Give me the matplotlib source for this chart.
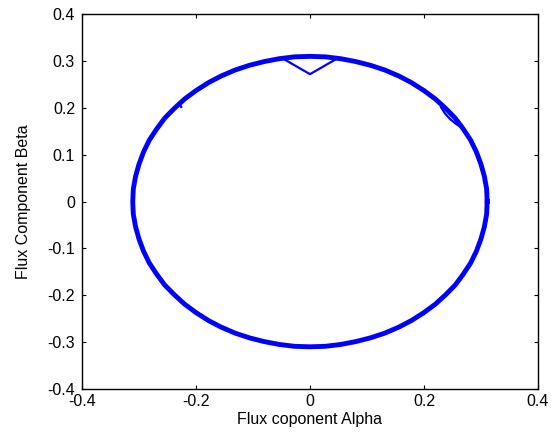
import matplotlib
matplotlib.use("Agg")
import matplotlib.pyplot as plt

# flux trajectory in the alpha-beta plane (one lap, ~5 degree steps)
alpha = [0.311, 0.310, 0.306, 0.300, 0.292, 0.282, 0.269, 0.255, 0.238, 0.220,
         0.200, 0.178, 0.156, 0.131, 0.106, 0.080, 0.054, 0.027, 0.000,
         -0.027, -0.054, -0.080, -0.106, -0.131, -0.156, -0.178, -0.200, -0.220,
         -0.238, -0.255, -0.269, -0.282, -0.292, -0.300, -0.306, -0.310, -0.311,
         -0.310, -0.306, -0.300, -0.292, -0.282, -0.269, -0.255, -0.238, -0.220,
         -0.200, -0.178, -0.156, -0.131, -0.106, -0.080, -0.054, -0.027, 0.000,
         0.027, 0.054, 0.080, 0.106, 0.131, 0.156, 0.178, 0.200, 0.220,
         0.238, 0.255, 0.269, 0.282, 0.292, 0.300, 0.306, 0.310, 0.311]
beta = [0.000, 0.027, 0.054, 0.080, 0.106, 0.131, 0.155, 0.178, 0.199, 0.219,
        0.237, 0.254, 0.268, 0.281, 0.291, 0.299, 0.305, 0.309, 0.310,
        0.309, 0.305, 0.299, 0.291, 0.281, 0.268, 0.254, 0.237, 0.219,
        0.199, 0.178, 0.155, 0.131, 0.106, 0.080, 0.054, 0.027, 0.000,
        -0.027, -0.054, -0.080, -0.106, -0.131, -0.155, -0.178, -0.199, -0.219,
        -0.237, -0.254, -0.268, -0.281, -0.291, -0.299, -0.305, -0.309, -0.310,
        -0.309, -0.305, -0.299, -0.291, -0.281, -0.268, -0.254, -0.237, -0.219,
        -0.199, -0.178, -0.155, -0.131, -0.106, -0.080, -0.054, -0.027, 0.000]

# transient dip near the top of the circle
dip_alpha = [-0.047, 0.000, 0.047]
dip_beta = [0.305, 0.272, 0.305]

# small inner loop on the upper right
loop_alpha = [0.265, 0.256, 0.246, 0.237, 0.230]
loop_beta = [0.159, 0.166, 0.176, 0.188, 0.2015]

# short notch on the upper left
spike_alpha = [-0.229, -0.226]
spike_beta = [0.210, 0.202]

xticks = [-0.4, -0.2, 0, 0.2, 0.4]
xticklabels = ["-0.4", "-0.2", "0", "0.2", "0.4"]
yticks = [-0.4, -0.3, -0.2, -0.1, 0, 0.1, 0.2, 0.3, 0.4]
yticklabels = ["-0.4", "-0.3", "-0.2", "-0.1", "0", "0.1", "0.2", "0.3", "0.4"]

plt.rcParams["font.family"] = ["Liberation Sans", "DejaVu Sans"]

fig = plt.figure(figsize=(5.58, 4.44), dpi=100)
ax = fig.add_axes([0.147, 0.124, 0.817, 0.844])

ax.plot(alpha, beta, color="#0000ff", lw=3.5, solid_joinstyle="round")
ax.plot(dip_alpha, dip_beta, color="#0000ff", lw=1.6)
ax.plot(loop_alpha, loop_beta, color="#0000ff", lw=1.6)
ax.plot(spike_alpha, spike_beta, color="#0000ff", lw=1.6)

ax.set_xlim(-0.4, 0.4)
ax.set_ylim(-0.4, 0.4)
ax.set_xticks(xticks)
ax.set_xticklabels(xticklabels)
ax.set_yticks(yticks)
ax.set_yticklabels(yticklabels)
ax.tick_params(direction="in", top=True, right=True, length=3, width=0.8,
               labelsize=11.5)
ax.tick_params(axis="y", pad=5)
ax.tick_params(axis="x", pad=4)
for s in ax.spines.values():
    s.set_linewidth(1.0)

ax.set_xlabel("Flux coponent Alpha", fontsize=11.5, labelpad=2)
ax.set_ylabel("Flux Component Beta", fontsize=11.5, labelpad=12)

fig.savefig("out.png", dpi=100)
